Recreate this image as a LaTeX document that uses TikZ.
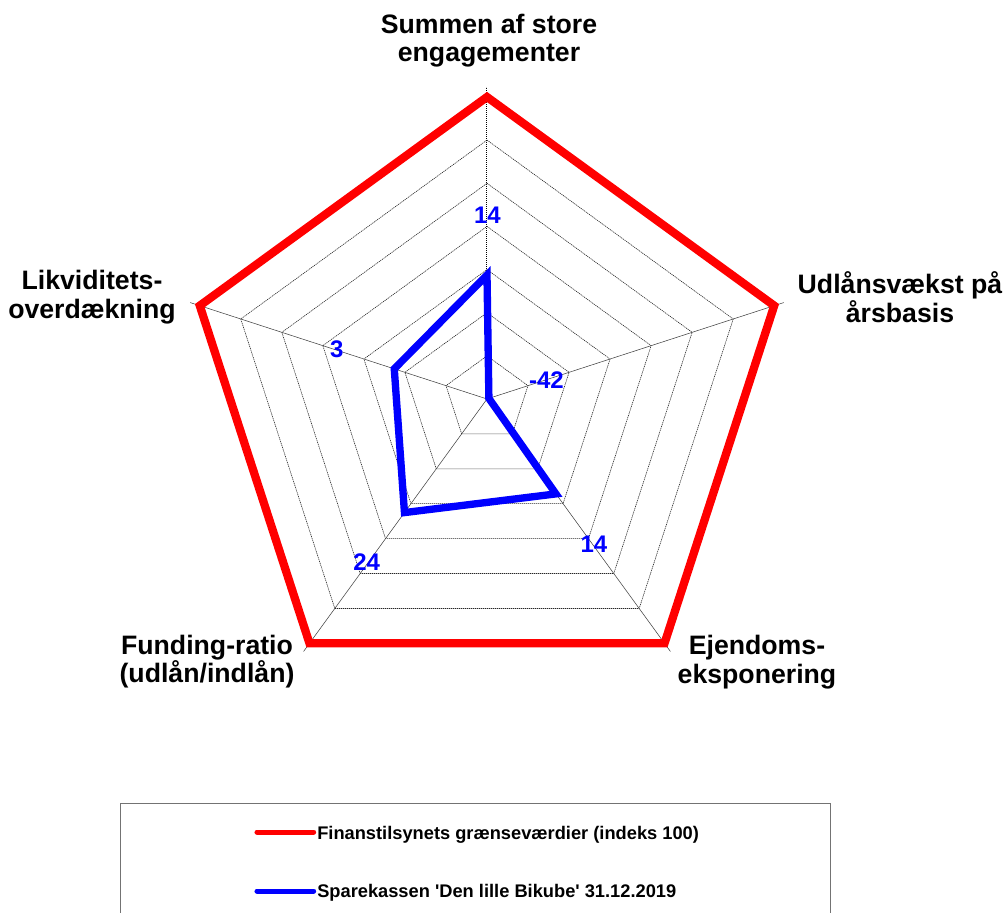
\documentclass[tikz,border=0pt]{standalone}
\usepackage{fontspec}
\setmainfont{Liberation Sans}
\usepackage{tikz}
\usetikzlibrary{positioning}

\begin{document}
\begin{tikzpicture}[
    x=0.75pt, y=0.75pt,
    font=\bfseries,
    ring/.style={
		draw=black!85,
		line width=0.45pt,
		dash pattern=on 0.9pt off 0.6pt
	},
    spoke/.style={
		draw=black!75,
		line width=0.4pt
	},
    mainaxis/.style={
		draw=black,
		line width=0.75pt,
		dash pattern=on 0.9pt off 0.6pt
	},
	limit/.style={
		draw=red,
		line width=6.2pt
	},
	bank/.style={
		draw=blue,
		line width=5.5pt
	},
	axislabel/.style={
		inner sep=0pt,
		align=center,
		font=\bfseries\fontsize{20}{21.3}\selectfont
	},
	value/.style={
		inner sep=0pt,
		text=blue,
		font=\bfseries\fontsize{18}{20}\selectfont
	},
	legbox/.style={
		draw=black!55,
		line width=0.75pt,
		minimum width=533pt,
		minimum height=88.5pt
	},
	legtext/.style={
		inner sep=0pt,
		anchor=base west,
		font=\bfseries\fontsize{13.7}{16}\selectfont
	},
	legline/.style={
		line width=3.75pt,
		line cap=round,
		shorten >=2.5pt
	}
  ]
  \useasboundingbox (-487,-514) rectangle (520,399);

    % We start by placing the grid
  \coordinate (ctr) at (0,0);
  \draw [ring] (90:43.1) -- (18:43.1) -- (-54:43.1) -- (-126:43.1) -- (162:43.1) -- cycle;
  \draw [ring] (90:86.3) -- (18:86.3) -- (-54:86.3) -- (-126:86.3) -- (162:86.3) -- cycle;
  \draw [ring] (90:129.4) -- (18:129.4) -- (-54:129.4) -- (-126:129.4) -- (162:129.4) -- cycle;
  \draw [ring] (90:172.6) -- (18:172.6) -- (-54:172.6) -- (-126:172.6) -- (162:172.6) -- cycle;
  \draw [ring] (90:215.7) -- (18:215.7) -- (-54:215.7) -- (-126:215.7) -- (162:215.7) -- cycle;
  \draw [ring] (90:258.9) -- (18:258.9) -- (-54:258.9) -- (-126:258.9) -- (162:258.9) -- cycle;

  \coordinate (tsum) at (90:312);
  \coordinate (tudl) at (18:312);
  \coordinate (tejd) at (-54:312);
  \coordinate (tfund) at (-126:312);
  \coordinate (tliq) at (162:312);
  \draw [spoke] (ctr) -- (tudl);
  \draw [spoke] (ctr) -- (tejd);
  \draw [spoke] (ctr) -- (tfund);
  \draw [spoke] (ctr) -- (tliq);
  \draw [mainaxis] (ctr) -- (tsum);

    % limit values (index 100)
  \coordinate (rsum) at (90:302);
  \coordinate (rudl) at (18:302);
  \coordinate (rejd) at (-54:302);
  \coordinate (rfund) at (-126:302);
  \coordinate (rliq) at (162:302);
  \draw [limit] (rsum) -- (rudl) -- (rejd) -- (rfund) -- (rliq) -- cycle;

    % the bank
  \coordinate (bsum) at (90:124);
  \coordinate (budl) at (18:2);
  \coordinate (bejd) at (-54:117.3);
  \coordinate (bfund) at (-126:140.4);
  \coordinate (bliq) at (162:97.5);
  \draw [bank] (bsum) -- (budl) -- (bejd) -- (bfund) -- (bliq) -- cycle;

    % axis texts
  \node [axislabel] (sum) at (2,358.3) {Summen af store\\engagementer};
  \node [axislabel] (udl) at (413,102) {Udlånsvækst på\\årsbasis};
  \node [axislabel] (liq) at (-395,102) {Likviditets-\\overdækning};
  \node [axislabel] (fund) at (-280,-262.5) {Funding-ratio\\(udlån/indlån)};
  \node [axislabel] (ejd) at (270,-263) {Ejendoms-\\eksponering};

  \node [value] (vsum) at (0.5,184) {14};
  \node [value] (vudl) at (59.5,19) {-42};
  \node [value] (vejd) at (107,-145.5) {14};
  \node [value] (vfund) at (-120.3,-163) {24};
  \node [value] (vliq) at (-150.3,50) {3};

    % legend
  \node [legbox] (legend) at (-11.5,-463) {};
  \node [legtext] (legred) at (-170,-440) {Finanstilsynets grænseværdier (indeks 100)};
  \node [legtext] (legblue) at (-170,-498.7) {Sparekassen \textquotesingle Den lille Bikube\textquotesingle{} 31.12.2019};
  \coordinate (legredstart) at (-230,-433);
  \coordinate (legbluestart) at (-230,-492);
  \draw [legline, red] (legredstart) -- (legredstart -| legred.west);
  \draw [legline, blue] (legbluestart) -- (legbluestart -| legblue.west);

\end{tikzpicture}
\end{document}
